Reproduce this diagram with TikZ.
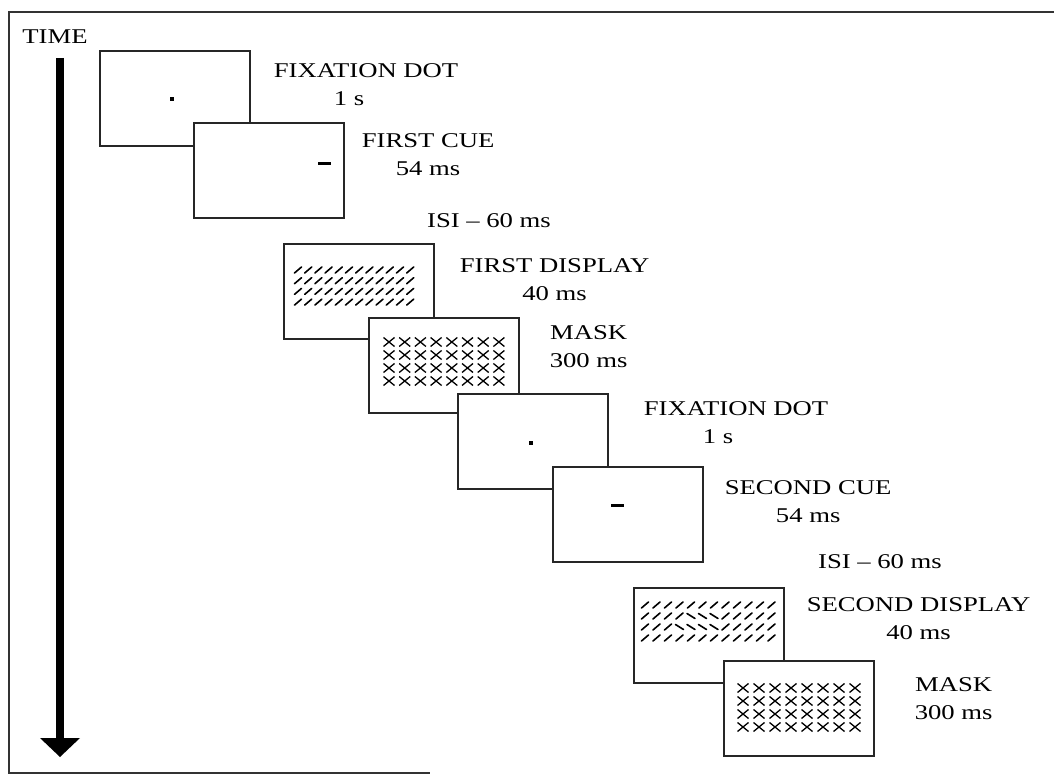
\documentclass[tikz,border=0pt]{standalone}
\usepackage{fontspec}
\setmainfont{Liberation Serif}[FakeStretch=1.27]
\usetikzlibrary{arrows.meta, positioning}

\begin{document}
\begin{tikzpicture}[x=1pt, y=-1pt,
    screen/.style={rectangle, draw=black!85, line width=1.6pt, fill=white, minimum width=150pt, minimum height=95pt, inner sep=0pt, anchor=north west},
    caption/.style={align=center, inner sep=0pt, font=\fontsize{21}{28}\selectfont},
    fixdot/.style={fill, minimum size=4pt, inner sep=0pt},
    cuemark/.style={fill, minimum width=13pt, minimum height=3pt, inner sep=0pt},
    slash/.style={line width=1.6pt, line cap=round},
    cross/.style={line width=1.3pt}
]
\useasboundingbox (0,0) rectangle (1054,775);
% frame
\draw[line width=1.8pt, black!80] (1054,12) -- (9,12) -- (9,773) -- (430,773);

% time axis
\node[caption] (time) at (55,37) {TIME};
\coordinate (ttop) at (60,58);
\coordinate (tend) at (60,757);
\draw[line width=8pt, -{Triangle[length=19pt, width=40pt, line width=0pt]}] (ttop) -- (tend);

% first trial
\node[screen] (b1) at (99,50) {};
\node[fixdot] (dot1) at (172,99) {};
\node[caption, below right=13pt and 23pt of b1.north east] (l1) {FIXATION DOT\\1 s\hspace*{34pt}};
\node[screen] (b2) at (193,122) {};
\node[cuemark] (cue1) at (324,164) {};
\node[caption, below right=11pt and 17pt of b2.north east] (l2) {FIRST CUE\\54 ms};
\node[caption] (isi1) at (489,221) {ISI \textendash{} 60 ms};
\node[screen] (b3) at (283,243) {};
\begin{scope}[shift={(b3.north west)}]
\foreach \r in {0,...,3}
  \foreach \c in {0,...,11}
    \draw[slash] ({15+10.2*\c-3.5},{27+10.7*\r+3}) -- ++(7,-6);
\end{scope}
\node[caption, below right=15pt and 25pt of b3.north east] (l3) {FIRST DISPLAY\\40 ms};
\node[screen] (b4) at (368,317) {};
\begin{scope}[shift={(b4.north west)}]
\foreach \r in {0,...,3}
  \foreach \c in {0,...,7}
    \draw[cross] ({21+15.7*\c-5.5},{25+13*\r-4.5}) -- ++(11,9) ++(-11,0) -- ++(11,-9);
\end{scope}
\node[caption, below right=8pt and 30pt of b4.north east] (l4) {MASK\\300 ms};

% second trial
\node[screen] (b5) at (457,393) {};
\node[fixdot] (dot2) at (531,443) {};
\node[caption, below right=8pt and 35pt of b5.north east] (l5) {FIXATION DOT\\1 s\hspace*{36pt}};
\node[screen] (b6) at (552,466) {};
\node[cuemark] (cue2) at (617,505) {};
\node[caption, below right=14pt and 21pt of b6.north east] (l6) {SECOND CUE\\54 ms};
\node[caption] (isi2) at (880,562) {ISI \textendash{} 60 ms};
\node[screen] (b7) at (633,587) {};
\begin{scope}[shift={(b7.north west)}]
\foreach \r in {0,...,3}
  \foreach \c in {0,...,11} {
    \pgfmathtruncatemacro{\flip}{(\r==1 && \c>3 && \c<7) || (\r==2 && \c>2 && \c<7)}
    \ifnum\flip=1
      \draw[slash] ({12+11.5*\c-4},{18+11*\r-2.5}) -- ++(8,5);
    \else
      \draw[slash] ({12+11.5*\c-3.5},{18+11*\r+3}) -- ++(7,-6);
    \fi
  }
\end{scope}
\node[caption, below right=10pt and 22pt of b7.north east] (l7) {SECOND DISPLAY\\40 ms};
\node[screen] (b8) at (723,660) {};
\begin{scope}[shift={(b8.north west)}]
\foreach \r in {0,...,3}
  \foreach \c in {0,...,7}
    \draw[cross] ({20+16*\c-5.5},{28+13*\r-4.5}) -- ++(11,9) ++(-11,0) -- ++(11,-9);
\end{scope}
\node[caption, below right=17pt and 40pt of b8.north east] (l8) {MASK\\300 ms};
\end{tikzpicture}
\end{document}
